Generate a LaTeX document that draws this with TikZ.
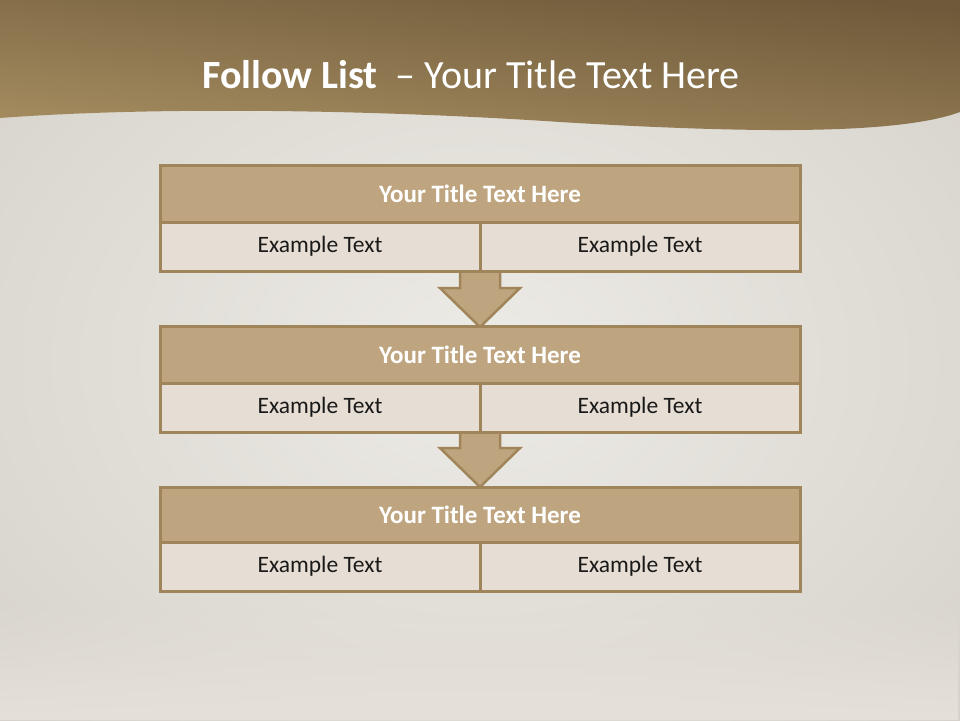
\documentclass[tikz,border=0pt]{standalone}
\usepackage{fontspec}
\setmainfont{Carlito}
\usetikzlibrary{calc,fadings}
\definecolor{bandtop}{HTML}{6E5A3A}
\definecolor{bandbot}{HTML}{A58C60}
\definecolor{bgout}{HTML}{D6D2CB}
\definecolor{bgin}{HTML}{EDEBE6}
\definecolor{floorc}{HTML}{E6E1D8}
\definecolor{titlefill}{HTML}{BFA57F}
\definecolor{cellfill}{HTML}{E6DED4}
\definecolor{edgec}{HTML}{A0855A}
\definecolor{arrowfill}{HTML}{BFA57F}
\begin{document}
\begin{tikzpicture}[x=1pt,y=-1pt,
  titlecell/.style={draw=edgec,line width=3pt,fill=titlefill,minimum width=640pt,minimum height=57pt,inner sep=0pt,text=white,font=\fontsize{25}{30}\selectfont\bfseries},
  excell/.style={draw=edgec,line width=3pt,fill=cellfill,minimum width=320pt,minimum height=49pt,inner sep=0pt,text=black!90,font=\fontsize{23.5}{28}\selectfont},
  blockarrow/.style={draw=edgec,line width=2.5pt,fill=arrowfill,line join=miter}]
\useasboundingbox (0,0) rectangle (960,720);
% background
\shade[inner color=bgin,outer color=bgout] (-200,-150) rectangle (1160,870);
\fill[floorc,path fading=north] (0,600) rectangle (960,720);
% header band
\shade[top color=bandtop,bottom color=bandbot,shading angle=-6]
  (0,0) -- (960,0) -- (960,112)
  .. controls (900,134) and (760,134) .. (560,122)
  .. controls (380,110) and (160,106) .. (0,118) -- cycle;
\node[text=white,font=\fontsize{40}{48}\selectfont] (title) at (471,75)
  {\textbf{Follow List}\ \ – Your Title Text Here};
% arrows (behind boxes)
\draw[blockarrow] (460,271) -- (460,288) -- (440,288) -- (480,327) -- (520,288) -- (500,288) -- (500,271) -- cycle;
\draw[blockarrow] (460,432) -- (460,448) -- (440,448) -- (480,487) -- (520,448) -- (500,448) -- (500,432) -- cycle;
% box 1
\node[titlecell] (t1) at (480,193.5) {Your Title Text Here};
\node[excell] (e1a) at (320,246.5) {Example Text};
\node[excell] (e1b) at (640,246.5) {Example Text};
% box 2
\node[titlecell] (t2) at (480,354.5) {Your Title Text Here};
\node[excell] (e2a) at (320,407.5) {Example Text};
\node[excell] (e2b) at (640,407.5) {Example Text};
% box 3
\node[titlecell,minimum height=55pt] (t3) at (480,514.5) {Your Title Text Here};
\node[excell] (e3a) at (320,566.5) {Example Text};
\node[excell] (e3b) at (640,566.5) {Example Text};
\end{tikzpicture}
\end{document}
